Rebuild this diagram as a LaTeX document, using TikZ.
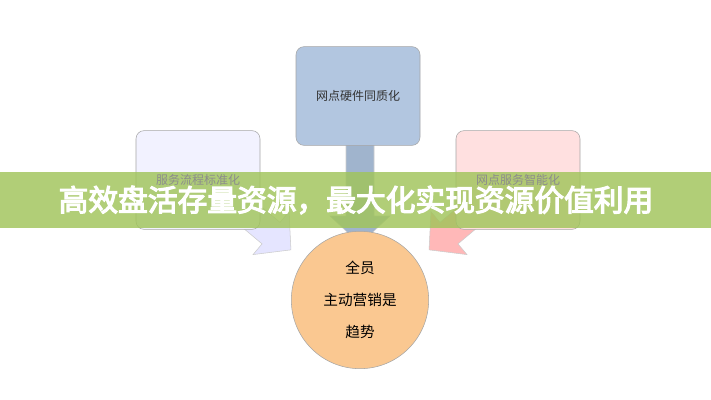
\documentclass[tikz,border=0pt]{standalone}
\usepackage{fontspec}
\setmainfont{Noto Sans CJK SC}
\newfontfamily\boldcjk[FakeBold=4]{Noto Sans CJK SC}
\definecolor{stemc}{RGB}{160,180,205}
\definecolor{topc}{RGB}{178,198,224}
\definecolor{circc}{RGB}{250,200,145}
\definecolor{bandc}{RGB}{160,196,90}
\begin{document}
\begin{tikzpicture}[x=0.75pt,y=-0.75pt,
 box/.style={draw=gray!70, rounded corners=6pt, minimum width=93pt, minimum height=74pt, font=\fontsize{9}{11}\selectfont, text=black!80},
 fat/.style={draw=gray!40}]
\useasboundingbox (0,0) rectangle (711,400);
\fill[white] (0,0) rectangle (711,400);
\begin{scope}[shift={(222,192)}, rotate=-40]
\draw[fat, fill=blue!10] (0,-14) -- (64,-14) -- (64,-28) -- (90,0) -- (64,28) -- (64,14) -- (0,14) -- cycle;
\end{scope}
\begin{scope}[shift={(498,192)}, rotate=-140]
\draw[fat, fill=red!28] (0,-14) -- (64,-14) -- (64,-28) -- (90,0) -- (64,28) -- (64,14) -- (0,14) -- cycle;
\end{scope}
\draw[fat, fill=stemc] (346,140) -- (374,140) -- (374,216) -- (390,216) -- (360,244) -- (330,216) -- (346,216) -- cycle;
\node[box, fill=topc] (t) at (358,96) {网点硬件同质化};
\node[box, fill=blue!5] (l) at (198,180) {};
\node[box, fill=red!12] (r) at (518,180) {};
\node[circle, draw=gray!70, fill=circc, minimum size=103pt, align=center, font=\fontsize{11}{24}\selectfont] (c) at (360,300) {全员\\主动营销是\\趋势};
\fill[bandc, opacity=0.82] (0,172) rectangle (711,228);
\node[font=\fontsize{9}{11}\selectfont, text=black!45] (lt) at (198,180) {服务流程标准化};
\node[font=\fontsize{9}{11}\selectfont, text=black!45] (rt) at (518,180) {网点服务智能化};
\node[text=white, font=\boldcjk\fontsize{22.3}{26}\selectfont] (h) at (356,200) {高效盘活存量资源，最大化实现资源价值利用};
\end{tikzpicture}
\end{document}
